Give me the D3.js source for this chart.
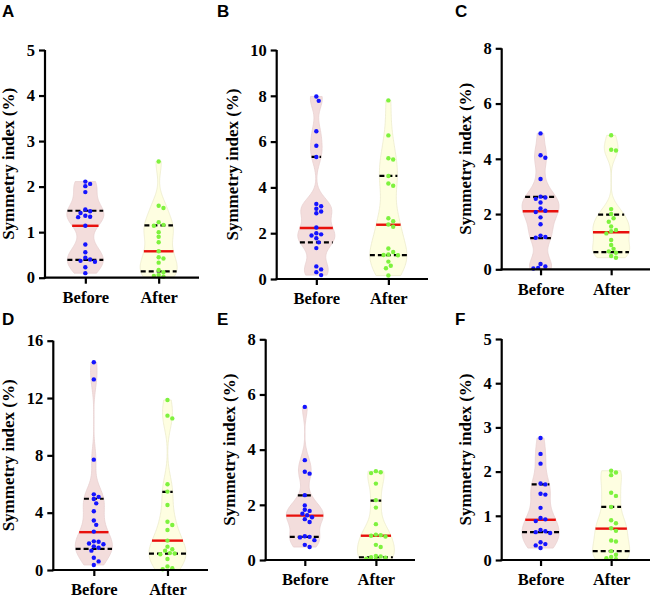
<!DOCTYPE html>
<html><head><meta charset="utf-8">
<script src="https://cdn.jsdelivr.net/npm/d3@7"></script>
<style>body{margin:0;background:#fff}</style>
</head><body><svg id="c" width="653" height="600"></svg>
<script>
const panelLabels = ["A","B","C","D","E","F"];
const groups = ["Before","After"];
const yMaxes = [5,10,8,16,8,5];
const yTickSteps = [1,2,2,4,2,1];
const yTitle = "Symmetry index (%)";

const beforeA = [2.11,2.06,2.01,1.88,1.50,1.46,1.42,1.36,1.34,1.33,1.14,0.73,0.56,0.44,0.40,0.37,0.35,0.23,0.10];
const afterA  = [2.55,1.58,1.53,1.22,1.16,1.14,1.00,0.90,0.78,0.58,0.45,0.42,0.33,0.17,0.12,0.06,0.04,0.02];
const beforeB = [7.97,7.78,6.45,5.82,5.33,3.28,3.18,3.07,2.95,2.87,2.25,2.00,1.95,1.90,1.78,1.60,1.35,0.55,0.42,0.30,0.17];
const afterB  = [7.80,6.27,5.27,5.22,4.50,4.17,4.07,2.65,2.52,2.38,2.28,1.33,1.18,1.07,1.05,1.04,0.76,0.58,0.47,0.15];
const beforeC = [4.92,4.13,4.04,3.27,2.63,2.60,2.55,2.42,2.20,2.12,2.07,1.88,1.63,1.22,1.17,1.14,0.19,0.10,0.05,0.03];
const afterC  = [4.85,4.33,4.30,2.18,2.00,1.85,1.72,1.55,1.42,1.38,1.30,1.06,0.88,0.74,0.65,0.60,0.48,0.42];
const beforeD = [14.5,13.3,7.7,5.28,5.10,4.95,4.65,4.10,3.45,3.15,2.68,2.00,1.97,1.85,1.80,1.65,1.55,1.35,0.85,0.60,0.35];
const afterD  = [11.86,10.77,10.58,5.98,5.47,4.54,3.37,3.14,2.79,2.05,1.63,1.45,1.35,1.18,1.15,1.10,0.77,0.25,0.12,0.05];
const beforeE = [5.55,3.62,3.20,3.13,2.35,1.98,1.82,1.78,1.68,1.62,1.55,1.48,1.38,0.86,0.84,0.82,0.72,0.55,0.47];
const afterE  = [3.22,3.18,3.15,2.77,2.17,1.90,1.30,0.92,0.90,0.88,0.85,0.55,0.47,0.15,0.13,0.10,0.08,0.05,0.03];
const beforeF = [2.76,2.40,2.18,1.73,1.71,1.50,1.48,1.18,0.95,0.92,0.88,0.68,0.65,0.63,0.61,0.40,0.36,0.33,0.27];
const afterF  = [2.02,1.98,1.92,1.52,1.45,1.20,0.90,0.83,0.72,0.66,0.44,0.42,0.20,0.12,0.07,0.04,0.02];

const medians        = [[1.14,0.58],[2.23,2.37],[2.10,1.34],[2.64,2.05],[1.61,0.88],[0.91,0.71]];
const lowerQuartiles = [[0.39,0.14],[1.60,1.04],[1.13,0.62],[1.48,1.14],[0.84,0.10],[0.63,0.20]];
const upperQuartiles = [[1.47,1.15],[5.33,4.50],[2.62,1.98],[4.97,5.45],[2.34,2.15],[1.71,1.20]];

const seriesData = [[beforeA,afterA],[beforeB,afterB],[beforeC,afterC],[beforeD,afterD],[beforeE,afterE],[beforeF,afterF]];

// layout (pixels)
const layout = [
  {ax:45,    top:50,    bottom:277.7, right:199, lx:2,   ly:17},
  {ax:276.7, top:50,    bottom:279,   right:428, lx:217, ly:17},
  {ax:501.7, top:48.3,  bottom:269.3, right:650, lx:455, ly:17},
  {ax:53.3,  top:340.7, bottom:570,   right:208, lx:2,   ly:325},
  {ax:265.7, top:339.3, bottom:560,   right:415, lx:217, ly:325},
  {ax:501.7, top:339,   bottom:560,   right:650, lx:455, ly:325}
];
const fills   = ["#f3dddc","#fefee1"];
const strokes = ["#e8d0d0","#ecebcc"];
const dotCols = ["#1414ff","#7ef23e"];
const maxHalf = 18.5, dotR = 2.2;
const serif = "'Liberation Serif','Times New Roman',serif";

const svg = d3.select("#c");

function gauss(u){ return Math.exp(-0.5*u*u)/Math.sqrt(2*Math.PI); }
function makeKde(data){
  const n = data.length, sd = d3.deviation(data);
  const s = data.slice().sort(d3.ascending);
  const iqr = d3.quantile(s,0.75)-d3.quantile(s,0.25);
  const h = 0.9*Math.min(sd, iqr/1.34)*Math.pow(n,-0.2)*0.72;
  const f = v => d3.mean(data, d => gauss((v-d)/h))/h;
  const lo = d3.min(data), hi = d3.max(data);
  const grid = d3.range(0,121).map(i => lo + (hi-lo)*i/120);
  const pts = grid.map(v => [v, f(v)]);
  const mx = d3.max(pts, p => p[1]);
  return {pts, f, mx, lo, hi};
}

function dodge(vals, y, cx, r){
  const order = vals.map((v,i)=>({v,i,y:y(v)})).sort((a,b)=>a.y-b.y);
  const placed = [];
  const out = new Array(vals.length);
  const step = 2*r+0.4;
  const offs = [0,0.5,-0.5,1,-1,1.5,-1.5,2,-2];
  for (const o of order){
    let best = cx;
    for (const k of offs){
      const x = cx + k*step;
      const ok = placed.every(p => Math.hypot(p.x-x, p.y-o.y) >= 2*r);
      if (ok){ best = x; break; }
    }
    placed.push({x:best,y:o.y});
    out[o.i] = {x:best, y:o.y};
  }
  return out;
}

seriesData.forEach((pair, pi) => {
  const L = layout[pi];
  const g = svg.append("g");
  const y = d3.scaleLinear().domain([0, yMaxes[pi]]).range([L.bottom, L.top]);
  const x = d3.scalePoint().domain(groups).range([L.ax, L.right]).padding(0.55);

  pair.forEach((data, gi) => {
    const cx = x(groups[gi]);
    const k = makeKde(data);
    const w = v => maxHalf * k.f(Math.max(k.lo, Math.min(k.hi, v))) / k.mx;
    const area = d3.area().curve(d3.curveCatmullRom)
      .x0(p => cx - maxHalf*p[1]/k.mx).x1(p => cx + maxHalf*p[1]/k.mx).y(p => y(p[0]));
    g.append("path").attr("d", area(k.pts))
      .attr("fill", fills[gi]).attr("stroke", strokes[gi]).attr("stroke-width", 0.8);
    [lowerQuartiles[pi][gi], upperQuartiles[pi][gi]].forEach(q => {
      const hw = w(q);
      g.append("line").attr("x1", cx-hw).attr("x2", cx+hw).attr("y1", y(q)).attr("y2", y(q))
        .attr("stroke", "#000").attr("stroke-width", 2.2).attr("stroke-dasharray", "5,3");
    });
    const m = medians[pi][gi], mw = w(m);
    g.append("line").attr("x1", cx-mw).attr("x2", cx+mw).attr("y1", y(m)).attr("y2", y(m))
      .attr("stroke", "#e8100c").attr("stroke-width", 2.4);
    const pos = dodge(data, y, cx, dotR);
    g.selectAll(null).data(data).join("circle")
      .attr("cx", (d,i) => pos[i].x).attr("cy", (d,i) => pos[i].y).attr("r", dotR)
      .attr("fill", dotCols[gi]);
  });

  const yAxis = d3.axisLeft(y).tickValues(d3.range(0, yMaxes[pi]+0.001, yTickSteps[pi]))
    .tickSize(6).tickSizeOuter(0).tickPadding(4).tickFormat(d3.format("d"));
  const ya = g.append("g").attr("transform", `translate(${L.ax},0)`).call(yAxis);
  const xAxis = d3.axisBottom(x).tickSize(6).tickSizeOuter(0).tickPadding(7.5);
  const xa = g.append("g").attr("transform", `translate(0,${L.bottom})`).call(xAxis);
  [ya, xa].forEach(a => {
    a.select(".domain").attr("stroke", "#000").attr("stroke-width", 2.2);
    a.selectAll(".tick line").attr("stroke", "#000").attr("stroke-width", 2.2);
    a.selectAll("text").attr("fill", "#000").style("font-family", serif)
      .style("font-weight", "bold").style("font-size", "16.5px");
  });
  xa.select(".domain").attr("d", `M${L.ax-1.1},0H${L.right}`);
  ya.select(".domain").attr("d", `M0,${L.top}V${L.bottom+1.1}`);

  let maxW = 0;
  ya.selectAll("text").each(function(){ maxW = Math.max(maxW, this.getComputedTextLength()); });
  const tx = L.ax - 10 - maxW - 16.7;
  g.append("text").attr("transform", `translate(${tx},${(L.top+L.bottom)/2}) rotate(-90)`)
    .attr("text-anchor", "middle").attr("dy", "0.25em")
    .style("font-family", serif).style("font-weight", "bold").style("font-size", "17px")
    .text(yTitle);

  g.append("text").attr("x", L.lx).attr("y", L.ly)
    .style("font-family", "'Liberation Sans',Arial,sans-serif").style("font-weight", "bold")
    .style("font-size", "17px").text(panelLabels[pi]);
});
</script></body></html>
